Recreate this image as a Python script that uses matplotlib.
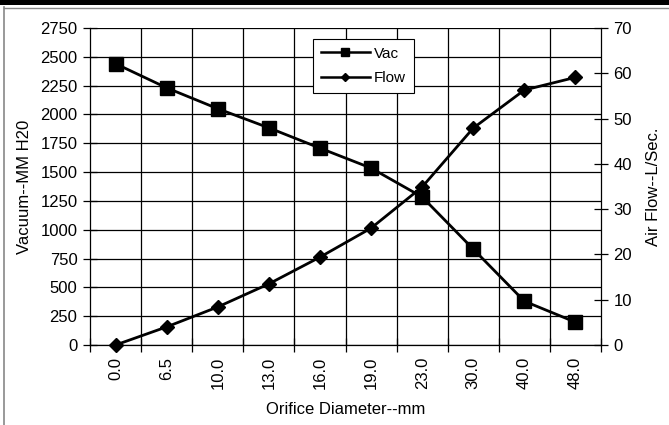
import matplotlib
matplotlib.use("Agg")
import matplotlib.pyplot as plt
from matplotlib.lines import Line2D
from matplotlib.patches import Rectangle
import numpy as np

plt.rcParams['font.family'] = ['Liberation Sans', 'DejaVu Sans']

categories = ["0.0", "6.5", "10.0", "13.0", "16.0", "19.0", "23.0", "30.0", "40.0", "48.0"]
vac = [2440, 2231, 2050, 1884, 1708, 1535, 1284, 832, 380, 198]
flow = [0.0, 4.0, 8.4, 13.5, 19.4, 25.8, 34.9, 47.9, 56.3, 59.1]
left_ticks = list(range(0, 2751, 250))
right_ticks = list(range(0, 71, 10))

FS = 12

fig = plt.figure(figsize=(6.69, 4.25), dpi=100)
fig.patch.set_facecolor('white')

# frame decorations (top black bar, thin gray borders)
fig.patches.append(Rectangle((0, 1 - 5/425), 1, 5/425, transform=fig.transFigure,
                             facecolor='black', edgecolor='none', zorder=0))
fig.add_artist(Line2D([4/669, 4/669], [0, 1 - 7/425], transform=fig.transFigure,
                      color='#888888', lw=1.2))
fig.add_artist(Line2D([4/669, 1], [1 - 7.5/425, 1 - 7.5/425], transform=fig.transFigure,
                      color='#888888', lw=1.0))

ax = fig.add_axes([90/669, 1 - 345/425, (601 - 90)/669, (345 - 28)/425])
x = np.arange(len(categories))
ax.set_xlim(-0.5, len(categories) - 0.5)
ax.set_ylim(0, 2750)

# gridlines
for yv in left_ticks:
    ax.axhline(yv, color='black', lw=0.9, zorder=1)
for b in np.arange(0.5, len(categories) - 0.5, 1):
    ax.axvline(b, color='black', lw=0.9, zorder=1)

l1, = ax.plot(x, vac, color='black', lw=2.0, marker='s', markersize=10, zorder=3, label='Vac',
              clip_on=False)

ax.set_yticks(left_ticks)
ax.set_yticklabels([str(v) for v in left_ticks], fontsize=FS)
ax.set_xticks(x)
ax.set_xticklabels(categories, rotation=90, fontsize=FS)
ax.tick_params(axis='x', length=0, pad=8.5)
ax.tick_params(axis='y', direction='inout', length=10, width=0.9, pad=4)
# x category boundary ticks
ax.set_xticks(np.arange(-0.5, len(categories), 1), minor=True)
ax.tick_params(axis='x', which='minor', direction='inout', length=10, width=0.9)

for s in ['top', 'right']:
    ax.spines[s].set_visible(False)
ax.spines['left'].set_linewidth(0.9)
ax.spines['bottom'].set_linewidth(0.9)

ax.set_xlabel("Orifice Diameter--mm", fontsize=FS, labelpad=9)
ax.set_ylabel("Vacuum--MM H20", fontsize=FS, labelpad=6)

ax2 = ax.twinx()
ax2.set_ylim(0, 70)
l2, = ax2.plot(x, flow, color='black', lw=2.0, marker='D', markersize=7.5, zorder=3, label='Flow',
               clip_on=False)
ax2.set_yticks(right_ticks)
ax2.set_yticklabels([str(v) for v in right_ticks], fontsize=FS)
ax2.tick_params(axis='y', direction='inout', length=10, width=0.9, pad=4)
for s in ['top', 'left', 'bottom']:
    ax2.spines[s].set_visible(False)
ax2.spines['right'].set_linewidth(0.9)
ax2.set_ylabel("Air Flow--L/Sec.", fontsize=FS, labelpad=10)

h1 = Line2D([], [], color='black', lw=1.8, marker='s', markersize=6)
h2 = Line2D([], [], color='black', lw=1.8, marker='D', markersize=4.5)
leg = ax2.legend([h1, h2], ['Vac', 'Flow'], loc='upper left',
                 bbox_to_anchor=((313 - 90)/511, 1 - (39 - 28)/317), fontsize=11,
                 frameon=True, fancybox=False, edgecolor='black', framealpha=1,
                 handlelength=3.2, handletextpad=0.3, borderpad=0.5, labelspacing=0.7,
                 borderaxespad=0)
leg.get_frame().set_linewidth(0.8)

fig.savefig("out.png", dpi=100, facecolor='white')
